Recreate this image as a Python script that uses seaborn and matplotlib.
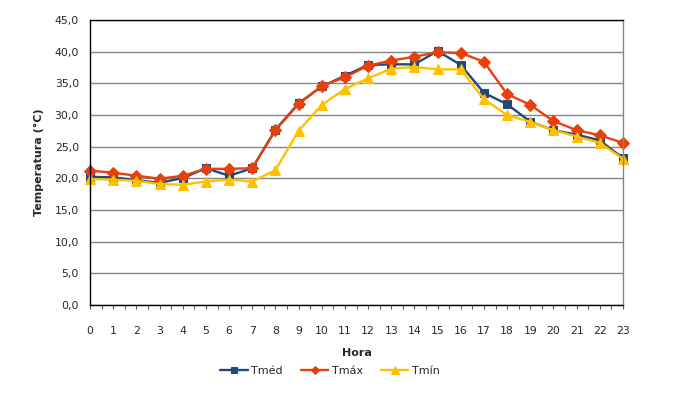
import numpy as np
import pandas as pd
import matplotlib
matplotlib.use("Agg")
import matplotlib.pyplot as plt
import seaborn as sns

# Hourly temperature values
horas = list(range(24))
tmed = [20.25, 20.15, 19.7, 19.3, 20.05, 21.6, 20.4, 21.6, 27.7, 31.85, 34.5, 36.2,
        37.9, 38.0, 38.0, 40.1, 37.9, 33.5, 31.7, 28.95, 27.6, 26.9, 26.0, 23.2]
tmax = [21.2, 20.9, 20.4, 19.95, 20.4, 21.5, 21.5, 21.6, 27.6, 31.75, 34.6, 35.95,
        37.8, 38.6, 39.2, 39.9, 39.8, 38.4, 33.3, 31.6, 29.05, 27.6, 26.8, 25.6]
tmin = [19.9, 19.8, 19.6, 19.1, 19.0, 19.5, 19.8, 19.5, 21.3, 27.5, 31.6, 34.1,
        35.8, 37.3, 37.6, 37.2, 37.2, 32.5, 30.0, 28.9, 27.6, 26.6, 25.6, 23.1]

series = ["Tméd", "Tmáx", "Tmín"]
colors = {"Tméd": "#1F497D", "Tmáx": "#E8400C", "Tmín": "#FFC000"}
markers = {"Tméd": "s", "Tmáx": "D", "Tmín": "^"}
msizes = {"Tméd": 6, "Tmáx": 6, "Tmín": 7}

df = pd.DataFrame({"Hora": horas * 3,
                   "Temp": tmed + tmax + tmin,
                   "Serie": np.repeat(series, len(horas))})

sns.set_style("white")
plt.rcParams["font.family"] = ["DejaVu Sans"]

fig = plt.figure(figsize=(6.83, 4.0), dpi=100)
ax = fig.add_axes([0.132, 0.2375, 0.78, 0.7125])

for s in series:
    sns.lineplot(data=df[df["Serie"] == s], x="Hora", y="Temp", ax=ax,
                 color=colors[s], marker=markers[s], markersize=msizes[s],
                 markeredgecolor=colors[s], linewidth=1.7, label=s, clip_on=False)

ax.set_xlim(0, 23)
ax.set_ylim(0, 45)
ax.set_xticks(horas)
ax.set_xticks(np.arange(0, 23.01, 0.5), minor=True)
ax.set_yticks(np.arange(0, 45.1, 5))
ax.set_yticklabels([f"{v:.1f}".replace(".", ",") for v in np.arange(0, 45.1, 5)])
ax.yaxis.grid(True, color="#868686", linewidth=1)
ax.set_axisbelow(True)

ax.tick_params(axis="x", which="both", direction="out", length=3, width=0.8,
               color="#555555", labelsize=7.8, pad=12, bottom=True)
ax.tick_params(axis="y", length=0, labelsize=7.8, pad=8)

for side in ["left", "bottom", "top"]:
    ax.spines[side].set_color("black")
    ax.spines[side].set_linewidth(1)
ax.spines["right"].set_color("#868686")
ax.spines["right"].set_linewidth(1)

ax.set_xlabel("Hora", fontsize=8, fontweight="bold", labelpad=9)
ax.set_ylabel("Temperatura (°C)", fontsize=8, fontweight="bold", labelpad=8)

ax.get_legend().remove()
handles, labels = ax.get_legend_handles_labels()
fig.legend(handles, labels, loc="center", bbox_to_anchor=(0.483, 0.072), ncol=3,
           frameon=False, fontsize=8, handlelength=2.5, columnspacing=1.6,
           handletextpad=0.3, markerscale=0.75)

fig.savefig("out.png", dpi=100)
